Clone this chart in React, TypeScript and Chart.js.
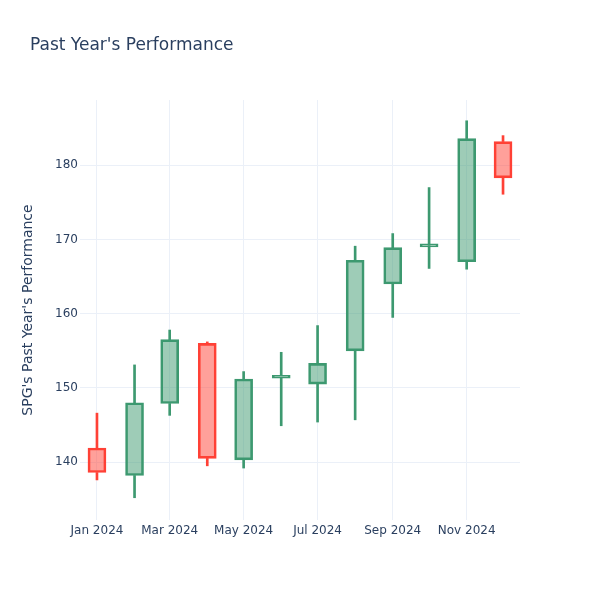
import React, { useEffect, useRef } from "react";
import { Chart, registerables } from "chart.js";

Chart.register(...registerables);

const months = [
  "2024-01-01", "2024-02-01", "2024-03-01", "2024-04-01", "2024-05-01", "2024-06-01",
  "2024-07-01", "2024-08-01", "2024-09-01", "2024-10-01", "2024-11-01", "2024-12-01",
];
const openVals = [141.9, 138.2, 147.9, 156.0, 140.3, 151.3, 150.5, 155.0, 164.0, 169.0, 167.0, 183.2];
const highVals = [146.6, 153.1, 157.8, 156.2, 152.2, 154.8, 158.4, 169.1, 170.8, 177.0, 186.0, 184.0];
const lowVals = [137.6, 135.2, 146.3, 139.5, 139.2, 144.9, 145.4, 145.7, 159.5, 166.1, 166.0, 176.1];
const closeVals = [138.6, 148.0, 156.5, 140.5, 151.2, 151.7, 153.3, 167.2, 168.9, 169.2, 183.6, 178.3];

const xTickDates = ["2024-01-01", "2024-03-01", "2024-05-01", "2024-07-01", "2024-09-01", "2024-11-01"];
const xTickLabels = ["Jan 2024", "Mar 2024", "May 2024", "Jul 2024", "Sep 2024", "Nov 2024"];
const yTickValues = [140, 150, 160, 170, 180];
const xRange = ["2023-12-18", "2024-12-15"];
const yRange = [132.2, 188.8];

const titleText = "Past Year's Performance";
const yTitleText = "SPG's Past Year's Performance";

const DAY = 86400000;
const BASE = Date.parse("2024-01-01");
const toDay = (s: string) => (Date.parse(s) - BASE) / DAY;

const UP_LINE = "#3D9970";
const UP_FILL = "rgba(61,153,112,0.5)";
const DOWN_LINE = "#FF4136";
const DOWN_FILL = "rgba(255,65,54,0.5)";
const TEXT = "#2a3f5f";
const GRID = "#EBF0F8";
const FONT = "'DejaVu Sans', 'Open Sans', sans-serif";

export default function App() {
  const ref = useRef<HTMLCanvasElement | null>(null);

  useEffect(() => {
    if (!ref.current) return;
    const xs = months.map(toDay);
    const isUp = openVals.map((o, i) => closeVals[i] >= o);
    const lineColors = isUp.map((u) => (u ? UP_LINE : DOWN_LINE));
    const fillColors = isUp.map((u) => (u ? UP_FILL : DOWN_FILL));

    const wickLow = xs.map((x, i) => ({ x, y: [lowVals[i], Math.min(openVals[i], closeVals[i])] }));
    const wickHigh = xs.map((x, i) => ({ x, y: [Math.max(openVals[i], closeVals[i]), highVals[i]] }));
    const bodies = xs.map((x, i) => ({ x, y: [openVals[i], closeVals[i]] }));

    const xTicks = xTickDates.map(toDay);

    const titlesPlugin = {
      id: "titles",
      afterDraw(chart: any) {
        const ctx = chart.ctx;
        ctx.save();
        ctx.fillStyle = TEXT;
        ctx.font = `17px ${FONT}`;
        ctx.textAlign = "left";
        ctx.textBaseline = "alphabetic";
        ctx.fillText(titleText, 30, 50);
        const a = chart.chartArea;
        ctx.translate(32, (a.top + a.bottom) / 2);
        ctx.rotate(-Math.PI / 2);
        ctx.font = `14px ${FONT}`;
        ctx.textAlign = "center";
        ctx.fillText(yTitleText, 0, 0);
        ctx.restore();
      },
    };

    const chart = new Chart(ref.current, {
      type: "bar",
      data: {
        datasets: [
          {
            data: wickLow as any,
            backgroundColor: lineColors,
            borderWidth: 0,
            barThickness: 2,
            grouped: false,
          },
          {
            data: wickHigh as any,
            backgroundColor: lineColors,
            borderWidth: 0,
            barThickness: 2,
            grouped: false,
          },
          {
            data: bodies as any,
            backgroundColor: fillColors,
            borderColor: lineColors,
            borderWidth: 2,
            borderSkipped: false,
            barThickness: 18,
            minBarLength: 3,
            grouped: false,
          },
        ],
      },
      options: {
        animation: false,
        responsive: false,
        devicePixelRatio: 1,
        events: [],
        layout: { padding: { left: 0, right: 80, top: 100, bottom: 0 } },
        plugins: { legend: { display: false }, tooltip: { enabled: false }, title: { display: false } },
        scales: {
          x: {
            type: "linear",
            offset: false,
            min: toDay(xRange[0]),
            max: toDay(xRange[1]),
            afterBuildTicks: (s: any) => {
              s.ticks = xTicks.map((v) => ({ value: v }));
            },
            afterFit: (s: any) => {
              s.height = 80;
            },
            grid: { color: GRID, lineWidth: 1, drawTicks: false, tickLength: 0, offset: false },
            border: { display: false },
            ticks: {
              autoSkip: false,
              maxRotation: 0,
              padding: 4,
              color: TEXT,
              font: { family: FONT, size: 12 },
              callback: (_v: any, i: number) => xTickLabels[i],
            },
          },
          y: {
            type: "linear",
            min: yRange[0],
            max: yRange[1],
            afterBuildTicks: (s: any) => {
              s.ticks = yTickValues.map((v) => ({ value: v }));
            },
            afterFit: (s: any) => {
              s.width = 80;
            },
            grid: { color: GRID, lineWidth: 1, drawTicks: false, tickLength: 0 },
            border: { display: false },
            ticks: {
              padding: 2,
              color: TEXT,
              font: { family: FONT, size: 12 },
              callback: (v: any) => String(v),
            },
          },
        },
      },
      plugins: [titlesPlugin],
    } as any);

    return () => chart.destroy();
  }, []);

  return (
    <div style={{ position: "fixed", left: 0, top: 0, width: 600, height: 600, background: "#fff" }}>
      <canvas ref={ref} width={600} height={600} style={{ display: "block" }} />
    </div>
  );
}
